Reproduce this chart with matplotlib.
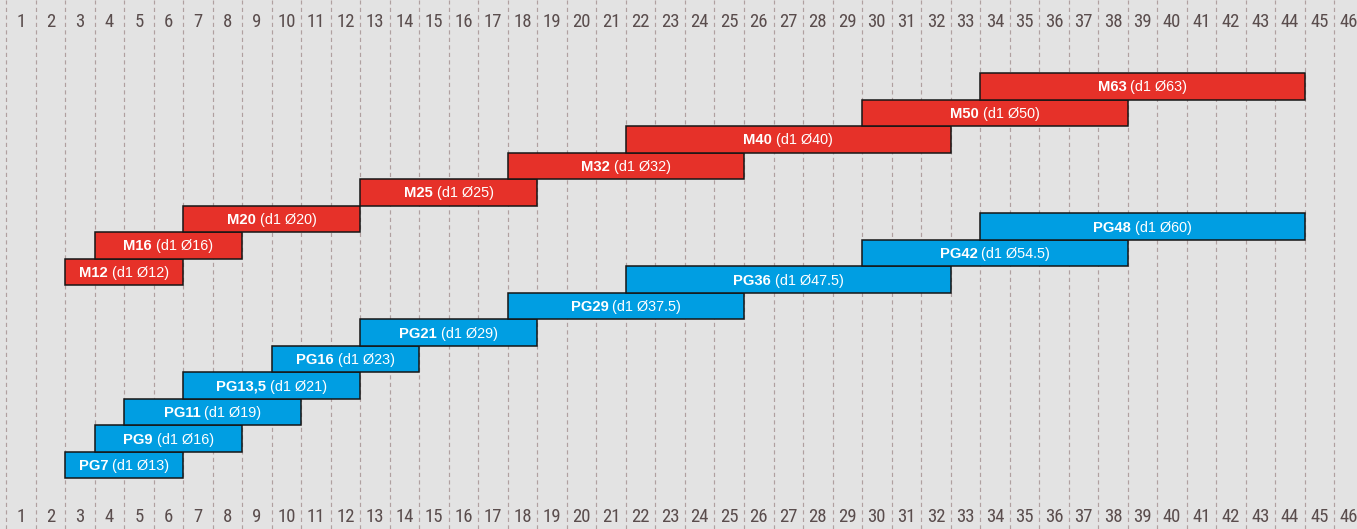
import matplotlib
matplotlib.use("Agg")
import matplotlib.pyplot as plt
import matplotlib.transforms as mtransforms
from matplotlib import font_manager
from matplotlib.offsetbox import TextArea, HPacker, AnnotationBbox

# Metric cable glands: name, bore d1 and clamping range on the scale (cells)
metric_names = ["M12", "M16", "M20", "M25", "M32", "M40", "M50", "M63"]
metric_d1 = ["12", "16", "20", "25", "32", "40", "50", "63"]
metric_min = [3, 4, 7, 13, 18, 22, 30, 34]
metric_max = [6, 8, 12, 18, 25, 32, 38, 44]

# PG cable glands
pg_names = ["PG7", "PG9", "PG11", "PG13,5", "PG16", "PG21", "PG29", "PG36", "PG42", "PG48"]
pg_d1 = ["13", "16", "19", "21", "23", "29", "37.5", "47.5", "54.5", "60"]
pg_min = [3, 4, 5, 7, 10, 13, 18, 22, 30, 34]
pg_max = [6, 8, 10, 12, 14, 18, 25, 32, 38, 44]

scale_ticks = list(range(1, 47))

# Colours
BG = "#e3e3e3"
RED = "#e63129"
BLUE = "#009ee2"
EDGE = "#161616"
GRID = "#b0a0a0"
NUM = "#5a4d4d"

# Layout (rows are measured in bar heights)
W_PX, H_PX, DPI = 1357, 529, 100
ROW_PX = 26.5
RED_TOP = 73 / ROW_PX
BLUE_TOP = 213.3 / ROW_PX

# Pick an upright, regular-weight narrow face for the scale numbers
entries = font_manager.fontManager.ttflist


def upright_regular(f):
    low = f.fname.lower()
    return (f.style == "normal" and not any(k in low for k in ("oblique", "italic", "bold"))
            and f.weight in (400, "normal", "regular"))


narrow_file = None
for f in entries:
    low = f.fname.lower()
    if upright_regular(f) and ("narrow" in low or "condensed" in low):
        narrow_file = f.fname
        if "liberation" in low:
            break
num_props = (font_manager.FontProperties(fname=narrow_file, size=13.5)
             if narrow_file else font_manager.FontProperties(family="DejaVu Sans", size=11.5))

names = {f.name for f in entries}
label_family = "Liberation Sans" if "Liberation Sans" in names else "DejaVu Sans"

plt.rcParams["lines.scale_dashes"] = False

fig = plt.figure(figsize=(W_PX / DPI, H_PX / DPI), dpi=DPI, facecolor=BG)
ax = fig.add_axes([0, 0, 1, 1])
ax.set_facecolor(BG)
ax.set_xlim(0.5 - 6 / 29.52, 0.5 + (W_PX - 6) / 29.52)
ax.set_ylim(H_PX / ROW_PX, 0)
ax.axis("off")

# Dashed cell boundaries
for t in scale_ticks:
    ax.axvline(t - 0.5, color=GRID, lw=0.85, dashes=(3.0, 2.4), zorder=1)

# Scale numbers along the top and bottom
tr = mtransforms.blended_transform_factory(ax.transData, ax.transAxes)
for t in scale_ticks:
    for yf in (1 - 21.5 / H_PX, 1 - 517.5 / H_PX):
        ax.text(t, yf, str(t), transform=tr, ha="center", va="center",
                color=NUM, fontproperties=num_props)


def draw_group(names, d1, lo, hi, top, color):
    n = len(names)
    for i in range(n):
        row = n - 1 - i
        yc = top + row + 0.5
        left = lo[i] - 0.5
        width = hi[i] - lo[i] + 1
        ax.barh(yc, width, left=left, height=1.0, color=color,
                edgecolor=EDGE, linewidth=1.1, zorder=3)
        bold = TextArea(names[i], textprops=dict(color="white", fontsize=10.6,
                                                 fontweight="bold", family=label_family))
        reg = TextArea(f" (d1 Ø{d1[i]})", textprops=dict(color="white", fontsize=10.4,
                                                         family=label_family))
        pack = HPacker(children=[bold, reg], align="baseline", pad=0, sep=0)
        ab = AnnotationBbox(pack, (left + width / 2, yc + 0.04), frameon=False,
                            box_alignment=(0.5, 0.5), pad=0, zorder=4)
        ax.add_artist(ab)


draw_group(metric_names, metric_d1, metric_min, metric_max, RED_TOP, RED)
draw_group(pg_names, pg_d1, pg_min, pg_max, BLUE_TOP, BLUE)

fig.savefig("out.png", dpi=DPI, facecolor=BG)
